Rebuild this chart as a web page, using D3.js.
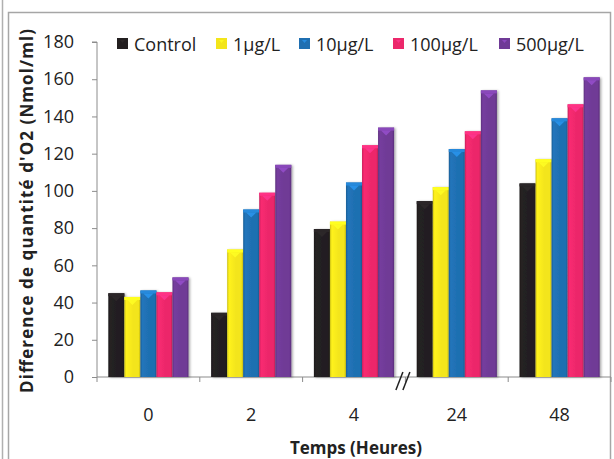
<!DOCTYPE html>
<html>
<head>
<meta charset="utf-8">
<script src="https://cdn.jsdelivr.net/npm/d3@7"></script>
<style>
  html, body { margin: 0; padding: 0; background: #fff; }
  svg { display: block; }
  text { font-family: "Open Sans", "DejaVu Sans", sans-serif; fill: #222; }
</style>
</head>
<body>
<svg id="chart" width="614" height="459"></svg>
<script>
// Time points (hours) on the x axis
const categories = ["0", "2", "4", "24", "48"];
// Treatment series shown in the legend
const series = ["Control", "1µg/L", "10µg/L", "100µg/L", "500µg/L"];
const seriesColors = ["#231f20", "#f3e51a", "#1f6fb1", "#ec286b", "#6f3a96"];
// Difference in O2 quantity (Nmol/ml) per series, one value per time point
const control  = [45, 34.5, 79.5, 94.5, 104];
const ug1      = [43, 68.5, 83.5, 102, 117];
const ug10     = [46.5, 90, 104.5, 122.5, 139];
const ug100    = [45.5, 99, 124.5, 132, 146.5];
const ug500    = [53.5, 114, 134, 154, 161];
const seriesValues = [control, ug1, ug10, ug100, ug500];
const yTicks = [0, 20, 40, 60, 80, 100, 120, 140, 160, 180];

const svg = d3.select("#chart");

// Outer frame lines
svg.append("line").attr("x1", 2.5).attr("x2", 2.5).attr("y1", 0).attr("y2", 459)
  .attr("stroke", "#b0b0b0").attr("stroke-width", 1.5);
svg.append("path").attr("d", "M8.5,459 V12.5 H610.5 V459")
  .attr("fill", "none").attr("stroke", "#a6a6a6").attr("stroke-width", 1.5);

const plot = { left: 97, right: 611, top: 42, bottom: 377 };

const y = d3.scaleLinear().domain([0, 180]).range([plot.bottom, plot.top]);
const x0 = d3.scaleBand().domain(categories).range([plot.left, plot.right])
  .paddingInner(0.22).paddingOuter(0.11);
const x1 = d3.scaleBand().domain(series).range([0, x0.bandwidth()]).padding(0);

const defs = svg.append("defs");
const shadow = defs.append("filter").attr("id", "sh")
  .attr("x", "-30%").attr("y", "-10%").attr("width", "160%").attr("height", "120%");
shadow.append("feDropShadow").attr("dx", 1.5).attr("dy", 0.5)
  .attr("stdDeviation", 1.2).attr("flood-color", "#000").attr("flood-opacity", 0.35);

// Horizontal shading gradient for each series
seriesColors.forEach((c, i) => {
  const g = defs.append("linearGradient").attr("id", "g" + i)
    .attr("x1", "0").attr("x2", "1").attr("y1", "0").attr("y2", "0");
  const base = d3.color(c);
  g.append("stop").attr("offset", "0%").attr("stop-color", base.darker(0.5));
  g.append("stop").attr("offset", "12%").attr("stop-color", base.brighter(0.15));
  g.append("stop").attr("offset", "55%").attr("stop-color", base);
  g.append("stop").attr("offset", "88%").attr("stop-color", base);
  g.append("stop").attr("offset", "100%").attr("stop-color", base.darker(0.6));
});

// Y axis
const yAxis = d3.axisLeft(y).tickValues(yTicks).tickSize(5).tickPadding(18);
const ga = svg.append("g").attr("transform", `translate(${plot.left},0)`).call(yAxis);
ga.select(".domain").attr("stroke", "#8c8c8c").attr("d", `M-5,${plot.top}H0V${plot.bottom}`);
ga.selectAll(".tick line").attr("stroke", "#8c8c8c");
ga.selectAll(".tick text").attr("font-size", 18).attr("fill", "#222")
  .style("font-family", '"Open Sans", sans-serif');

// X axis with ticks at group boundaries
const xAxisG = svg.append("g").attr("transform", `translate(0,${plot.bottom})`);
xAxisG.append("line").attr("x1", plot.left).attr("x2", plot.right)
  .attr("stroke", "#8c8c8c").attr("stroke-width", 1.2);
const boundaries = categories.map(c => x0(c) - x0.step() * x0.paddingOuter()).concat([plot.right]);
xAxisG.selectAll(".bt").data(boundaries).join("line").attr("class", "bt")
  .attr("x1", d => d).attr("x2", d => d).attr("y1", 0).attr("y2", 5)
  .attr("stroke", "#8c8c8c");
xAxisG.selectAll(".cl").data(categories).join("text").attr("class", "cl")
  .attr("x", d => x0(d) + x0.bandwidth() / 2).attr("y", 44)
  .attr("text-anchor", "middle").attr("font-size", 18).text(d => d);

// Bars
const groups = svg.append("g").selectAll("g").data(categories).join("g")
  .attr("transform", d => `translate(${x0(d)},0)`);
groups.each(function(cat, ci) {
  const g = d3.select(this);
  series.forEach((s, si) => {
    const v = seriesValues[si][ci];
    const bx = x1(s), bw = x1.bandwidth();
    const top = y(v);
    const base = d3.color(seriesColors[si]);
    g.append("rect").attr("x", bx).attr("y", top).attr("width", bw)
      .attr("height", y(0) - top).attr("fill", `url(#g${si})`).attr("filter", "url(#sh)");
    // top bevel
    g.append("rect").attr("x", bx).attr("y", top).attr("width", bw).attr("height", 3)
      .attr("fill", base.brighter(0.6));
    g.append("path")
      .attr("d", `M${bx + 3},${top + 3}L${bx + bw - 3},${top + 3}L${bx + bw / 2},${top + 8}Z`)
      .attr("fill", base.brighter(0.9)).attr("opacity", 0.8);
  });
});

// Axis break marks
const bx0 = boundaries[3] - 6;
[0, 7].forEach(off => {
  svg.append("line").attr("x1", bx0 + off - 3.5).attr("y1", plot.bottom + 13)
    .attr("x2", bx0 + off + 3.5).attr("y2", plot.bottom - 5)
    .attr("stroke", "#222").attr("stroke-width", 1.5);
});

// Legend
const legendX = [117, 216, 299, 393, 499];
const leg = svg.append("g");
series.forEach((s, i) => {
  const c = d3.color(seriesColors[i]);
  leg.append("rect").attr("x", legendX[i]).attr("y", 38).attr("width", 11).attr("height", 11)
    .attr("fill", c);
  leg.append("path").attr("d", `M${legendX[i] + 3},${40}L${legendX[i] + 8},${40}L${legendX[i] + 5.5},${43}Z`)
    .attr("fill", c.brighter(0.9)).attr("opacity", 0.7);
  leg.append("text").attr("x", legendX[i] + 17).attr("y", 50.5)
    .attr("font-size", 18).text(s);
});

// Axis titles
svg.append("text").attr("transform", `translate(33,211) rotate(-90)`)
  .attr("text-anchor", "middle").attr("font-size", 17).attr("font-weight", 700)
  .attr("textLength", 364).attr("lengthAdjust", "spacing")
  .text("Difference de quantité d'O2 (Nmol/ml)");
svg.append("text").attr("x", 356).attr("y", 454)
  .attr("text-anchor", "middle").attr("font-size", 17).attr("font-weight", 700)
  .text("Temps (Heures)");
</script>
</body>
</html>
